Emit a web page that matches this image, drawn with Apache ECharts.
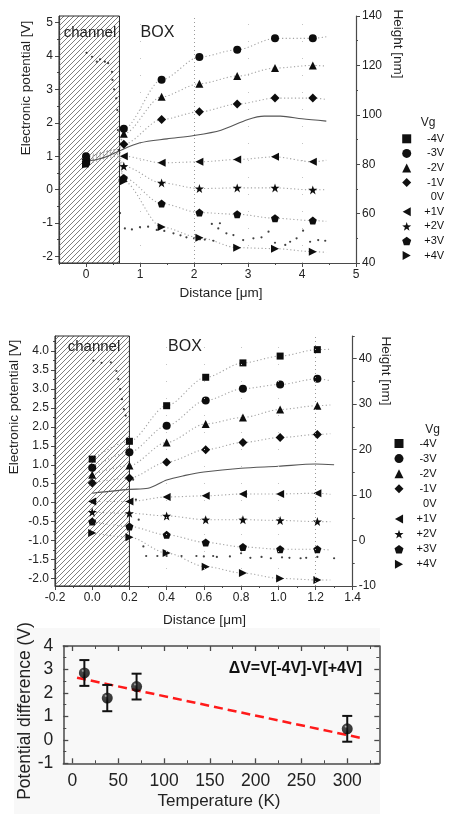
<!DOCTYPE html>
<html>
<head>
<meta charset="utf-8">
<script src="https://cdn.jsdelivr.net/npm/echarts@6/dist/echarts.min.js"></script>
<style>
  html, body { margin: 0; padding: 0; background: #fff; }
  #c { width: 454px; height: 814px; }
</style>
</head>
<body>
<div id="c"></div>
<script>
const FONT = "'Liberation Sans', Arial, Helvetica, sans-serif";

// ---------- (a) long device: potential vs distance ----------
const gateLabels = ['-4V', '-3V', '-2V', '-1V', '0V', '+1V', '+2V', '+3V', '+4V'];
const distA = [0, 0.6, 0.7, 1.4, 2.1, 2.8, 3.5, 4.2, 4.45];
const markA = [1, 0, 1, 1, 1, 1, 1, 1, 0];
const potA_m3 = [1.00, 1.20, 1.82, 3.29, 3.97, 4.19, 4.53, 4.53, 4.58];
const potA_m2 = [0.95, 1.20, 1.67, 2.78, 3.17, 3.40, 3.64, 3.72, 3.70];
const potA_m1 = [0.90, 1.20, 1.36, 2.10, 2.33, 2.56, 2.74, 2.74, 2.70];
const potA_p1 = [0.85, 1.15, 1.00, 0.80, 0.83, 0.90, 0.98, 0.83, 0.88];
const potA_p2 = [0.82, 1.10, 0.70, 0.20, 0.03, 0.05, 0.05, -0.01, 0.00];
const potA_p3 = [0.78, 1.05, 0.35, -0.42, -0.69, -0.74, -0.86, -0.93, -0.95];
const potA_p4 = [0.75, 1.00, 0.25, -1.12, -1.44, -1.74, -1.77, -1.86, -1.88];
const distA0 = [0, 0.2, 0.4, 0.6, 1.0, 1.5, 2.0, 2.5, 3.0, 3.3, 3.6, 4.0, 4.45];
const potA_0 = [0.85, 0.90, 1.00, 1.15, 1.40, 1.52, 1.62, 1.78, 2.10, 2.20, 2.20, 2.12, 2.05];
// topography (right axis, nm)
const hDistA = [0.01, 0.11, 0.20, 0.26, 0.35, 0.41, 0.48, 0.49, 0.52, 0.56, 0.58, 0.59, 0.61, 0.62, 0.63,
  0.72, 0.85, 1.00, 1.15, 1.31, 1.45, 1.62, 1.75, 1.86, 2.00, 2.11, 2.20, 2.33, 2.36, 2.45, 2.48, 2.60,
  2.73, 2.91, 3.10, 3.25, 3.38, 3.50, 3.69, 3.78, 3.90, 4.02, 4.15, 4.30, 4.43];
const heightA = [125.1, 123.5, 121.5, 122.5, 121.5, 120.9, 117.4, 114.1, 110.3, 106.7, 101.9, 93.8, 85.7, 73.6, 60.2,
  54.0, 53.6, 54.5, 54.7, 53.4, 53.0, 52.0, 51.2, 50.4, 50.0, 49.6, 49.5, 55.8, 49.0, 54.0, 56.1, 52.0,
  51.3, 49.3, 50.0, 50.4, 52.7, 48.2, 47.3, 48.6, 50.0, 53.1, 48.6, 49.3, 49.0];

// ---------- (b) short device ----------
const distB = [0, 0.2, 0.4, 0.61, 0.81, 1.01, 1.21, 1.28];
const markB = [1, 1, 1, 1, 1, 1, 1, 0];
const potB_m4 = [1.15, 1.62, 2.56, 3.31, 3.69, 3.87, 4.04, 4.05];
const potB_m3 = [0.92, 1.33, 2.03, 2.70, 3.01, 3.12, 3.27, 3.22];
const potB_m2 = [0.74, 0.98, 1.59, 2.08, 2.25, 2.46, 2.56, 2.58];
const potB_m1 = [0.52, 0.65, 1.07, 1.40, 1.59, 1.72, 1.80, 1.82];
const potB_p1 = [0.03, 0.03, 0.15, 0.18, 0.23, 0.23, 0.25, 0.22];
const potB_p2 = [-0.25, -0.28, -0.35, -0.45, -0.45, -0.47, -0.50, -0.50];
const potB_p3 = [-0.50, -0.63, -0.85, -1.05, -1.17, -1.23, -1.23, -1.25];
const potB_p4 = [-0.80, -0.91, -1.33, -1.69, -1.86, -2.00, -2.04, -2.04];
const distB0 = [0, 0.2, 0.3, 0.4, 0.5, 0.6, 0.8, 1.0, 1.2, 1.3];
const potB_0 = [0.25, 0.35, 0.38, 0.60, 0.72, 0.81, 0.91, 0.96, 1.02, 1.00];
const hDistB = [0.006, 0.05, 0.10, 0.13, 0.14, 0.15, 0.16, 0.17, 0.18, 0.22, 0.235, 0.25, 0.275, 0.29,
  0.35, 0.40, 0.48, 0.56, 0.60, 0.65, 0.67, 0.74, 0.80, 0.85, 0.91, 0.96, 1.02, 1.06, 1.12, 1.15, 1.21, 1.30];
const heightB = [39.6, 39.1, 39.2, 37.3, 35.5, 33.3, 31.1, 28.9, 27.5, 13.4, 9.0, 4.6, -1.3, -3.4,
  -3.4, -3.4, -3.4, -3.4, -3.5, -3.4, -3.6, -3.5, -2.8, -3.8, -3.6, -3.9, -3.7, -3.8, -3.9, -3.8, -3.6, -3.9];

// ---------- (c) potential difference vs temperature ----------
const temps = [13, 38, 70, 300];
const deltaV = [2.85, 1.78, 2.27, 0.47];
const deltaErr = [0.55, 0.56, 0.55, 0.55];
const fitT = [5, 315];
const fitV = [2.65, 0.08];

// tick positions
const ticksAx = [0, 1, 2, 3, 4, 5], minorAx = [-0.5, 0.5, 1.5, 2.5, 3.5, 4.5];
const ticksAy = [-2, -1, 0, 1, 2, 3, 4, 5], minorAy = [-1.5, -0.5, 0.5, 1.5, 2.5, 3.5, 4.5];
const ticksAh = [40, 60, 80, 100, 120, 140], minorAh = [50, 70, 90, 110, 130];
const ticksBx = [-0.2, 0, 0.2, 0.4, 0.6, 0.8, 1.0, 1.2, 1.4], minorBx = [-0.1, 0.1, 0.3, 0.5, 0.7, 0.9, 1.1, 1.3];
const ticksBy = [-2, -1.5, -1, -0.5, 0, 0.5, 1, 1.5, 2, 2.5, 3, 3.5, 4];
const minorBy = [-1.75, -1.25, -0.75, -0.25, 0.25, 0.75, 1.25, 1.75, 2.25, 2.75, 3.25, 3.75, 4.25];
const ticksBh = [-10, 0, 10, 20, 30, 40], minorBh = [-5, 5, 15, 25, 35, 45];
const ticksCx = [0, 50, 100, 150, 200, 250, 300], minorCx = [25, 75, 125, 175, 225, 275, 325];
const ticksCy = [-1, 0, 1, 2, 3, 4], minorCy = [-0.5, 0.5, 1.5, 2.5, 3.5];

const SYMBOL = {
  '-4V': 'rect', '-3V': 'circle', '-2V': 'triangle', '-1V': 'diamond', '0V': 'none',
  '+1V': 'path://M0,5L9,0L9,10Z',
  '+2V': 'path://M10,0L12.35,6.76L19.51,6.91L13.8,11.24L15.88,18.09L10,14L4.12,18.09L6.2,11.24L0.49,6.91L7.65,6.76Z',
  '+3V': 'path://M10,0L19.51,6.91L15.88,18.09L4.12,18.09L0.49,6.91Z',
  '+4V': 'path://M0,0L9,5L0,10Z'
};
const SIZE = { '-4V': 7, '-3V': 8, '-2V': 8, '-1V': 9, '+1V': 8, '+2V': 9, '+3V': 8, '+4V': 8 };

const AX = '#4a4a4a';

function hatchPattern() {
  const c = document.createElement('canvas');
  c.width = 5; c.height = 5;
  const g = c.getContext('2d');
  g.strokeStyle = '#6e6e6e';
  g.lineWidth = 0.9;
  g.beginPath();
  g.moveTo(0, 5); g.lineTo(5, 0);
  g.moveTo(-1, 1); g.lineTo(1, -1);
  g.moveTo(4, 6); g.lineTo(6, 4);
  g.stroke();
  return c;
}
const HATCH = hatchPattern();

function axis(o) {
  return {
    type: 'value', gridIndex: o.grid, position: o.pos, min: o.min, max: o.max,
    axisLine: { show: o.line !== false, onZero: false, lineStyle: { color: AX, width: o.lw || 1.2 } },
    axisTick: { show: true, inside: !!o.inside, length: o.len || 4, customValues: o.ticks,
      lineStyle: { color: AX, width: o.tw || 1 } },
    axisLabel: o.labels ? {
      show: true, customValues: o.ticks, margin: o.margin || 6, fontSize: o.fs || 12,
      color: '#222', fontFamily: FONT, formatter: o.fmt || (v => String(v))
    } : { show: false },
    splitLine: { show: false }, minorTick: { show: false }, silent: true
  };
}

function trace(name, xs, ys, marks, xi, yi) {
  return {
    type: 'line', name, xAxisIndex: xi, yAxisIndex: yi,
    smooth: 0.3, smoothMonotone: 'x', showAllSymbol: true,
    symbol: SYMBOL[name], symbolSize: SIZE[name],
    data: xs.map((x, i) => ({ value: [x, ys[i]], symbol: marks[i] ? SYMBOL[name] : 'none' })),
    itemStyle: { color: '#0d0d0d' },
    lineStyle: { color: '#a4a4a4', width: 1.1, type: [1.2, 2.4] },
    z: 3, silent: true
  };
}

function gridLines(xs, dense) {
  return {
    silent: true, symbol: ['none', 'none'], label: { show: false }, animation: false,
    data: xs.map(x => ({ xAxis: x, lineStyle: x === dense
      ? { color: '#9a9a9a', width: 1, type: [1, 3] }
      : { color: '#c4c4c4', width: 1, type: [1, 16] } }))
  };
}

function channelArea(x0, x1, y0, y1) {
  return {
    silent: true, animation: false,
    itemStyle: { color: { image: HATCH, repeat: 'repeat' }, borderColor: '#2a2a2a', borderWidth: 1 },
    data: [[{ xAxis: x0, yAxis: y0 }, { xAxis: x1, yAxis: y1 }]]
  };
}

const seriesA = [
  trace('-3V', distA, potA_m3, markA, 0, 0),
  trace('-2V', distA, potA_m2, markA, 0, 0),
  trace('-1V', distA, potA_m1, markA, 0, 0),
  trace('+1V', distA, potA_p1, markA, 0, 0),
  trace('+2V', distA, potA_p2, markA, 0, 0),
  trace('+3V', distA, potA_p3, markA, 0, 0),
  trace('+4V', distA, potA_p4, markA, 0, 0),
  {
    type: 'line', name: '0V', xAxisIndex: 0, yAxisIndex: 0, smooth: 0.3, symbol: 'none',
    data: distA0.map((x, i) => [x, potA_0[i]]),
    itemStyle: { color: '#444' }, lineStyle: { color: '#555', width: 1.1 }, z: 3, silent: true,
    markArea: channelArea(-0.5, 0.62, -2.2, 5.2),
    markLine: gridLines([1, 2, 3, 4], 2)
  },
  {
    type: 'scatter', name: 'heightA', xAxisIndex: 0, yAxisIndex: 2, symbolSize: 2.2,
    data: hDistA.map((x, i) => [x, heightA[i]]), itemStyle: { color: '#111' }, silent: true, z: 3
  }
];

const seriesB = [
  trace('-4V', distB, potB_m4, markB, 2, 3),
  trace('-3V', distB, potB_m3, markB, 2, 3),
  trace('-2V', distB, potB_m2, markB, 2, 3),
  trace('-1V', distB, potB_m1, markB, 2, 3),
  trace('+1V', distB, potB_p1, markB, 2, 3),
  trace('+2V', distB, potB_p2, markB, 2, 3),
  trace('+3V', distB, potB_p3, markB, 2, 3),
  trace('+4V', distB, potB_p4, markB, 2, 3),
  {
    type: 'line', name: '0V', xAxisIndex: 2, yAxisIndex: 3, smooth: 0.3, symbol: 'none',
    data: distB0.map((x, i) => [x, potB_0[i]]),
    itemStyle: { color: '#444' }, lineStyle: { color: '#555', width: 1.1 }, z: 3, silent: true,
    markArea: channelArea(-0.2, 0.2, -2.2, 4.4),
    markLine: gridLines([0.4, 0.6, 0.8, 1.0, 1.2], 1.2)
  },
  {
    type: 'scatter', name: 'heightB', xAxisIndex: 2, yAxisIndex: 5, symbolSize: 2.2,
    data: hDistB.map((x, i) => [x, heightB[i]]), itemStyle: { color: '#111' }, silent: true, z: 3
  }
];

const seriesC = [
  {
    type: 'line', name: 'fit', xAxisIndex: 4, yAxisIndex: 7, symbol: 'none',
    data: fitT.map((t, i) => [t, fitV[i]]),
    lineStyle: { color: '#ff1a1a', width: 2.5, type: [9, 5] }, z: 3, silent: true
  },
  {
    type: 'custom', name: 'err', xAxisIndex: 4, yAxisIndex: 7, silent: true, z: 4,
    data: temps.map((t, i) => [t, deltaV[i], deltaErr[i]]),
    encode: { x: 0, y: 1 },
    renderItem(params, api) {
      const x = api.value(0), y = api.value(1), e = api.value(2);
      const top = api.coord([x, y + e]);
      const bot = api.coord([x, y - e]);
      const hw = 5;
      const st = { stroke: '#111', lineWidth: 2 };
      return {
        type: 'group', children: [
          { type: 'line', shape: { x1: top[0], y1: top[1], x2: bot[0], y2: bot[1] }, style: st },
          { type: 'line', shape: { x1: top[0] - hw, y1: top[1], x2: top[0] + hw, y2: top[1] }, style: st },
          { type: 'line', shape: { x1: bot[0] - hw, y1: bot[1], x2: bot[0] + hw, y2: bot[1] }, style: st }
        ]
      };
    }
  },
  {
    type: 'scatter', name: 'dV', xAxisIndex: 4, yAxisIndex: 7, symbolSize: 11, z: 5, silent: true,
    data: temps.map((t, i) => [t, deltaV[i]]),
    itemStyle: {
      color: { type: 'radial', x: 0.36, y: 0.3, r: 0.7,
        colorStops: [{ offset: 0, color: '#b5b5b5' }, { offset: 0.2, color: '#1c1c1c' }, { offset: 1, color: '#000' }] }
    }
  }
];

function legendFor(top, left, gap) {
  return {
    orient: 'vertical', top, left, padding: 0, itemWidth: 9, itemHeight: 9, itemGap: gap, itemTextGap: 4,
    selectedMode: false,
    data: gateLabels.map(n => ({
      name: n, icon: n === '0V' ? 'rect' : SYMBOL[n],
      itemStyle: n === '0V' ? { opacity: 0 } : { color: '#111', opacity: 1 }
    })),
    formatter: n => '{t|' + n + '}',
    textStyle: { rich: { t: { width: 28, align: 'right', fontSize: 11, lineHeight: 12, color: '#111', fontFamily: FONT } } }
  };
}

function label(text, x, y, size, rot, extra) {
  return Object.assign({
    type: 'text', x, y, rotation: rot || 0, z: 100, silent: true,
    style: { text, fontSize: size, fontFamily: FONT, fill: '#222', align: 'center', verticalAlign: 'middle' }
  }, extra || {});
}

const chart = echarts.init(document.getElementById('c'), null, { renderer: 'canvas' });
chart.setOption({
  animation: false,
  backgroundColor: '#fff',
  textStyle: { fontFamily: FONT },
  grid: [
    { left: 59, top: 16, width: 297, height: 247, outerBoundsMode: 'none' },
    { left: 55, top: 336, width: 297.7, height: 250, outerBoundsMode: 'none' },
    { left: 63.3, top: 646, width: 316, height: 117.3, outerBoundsMode: 'none' }
  ],
  xAxis: [
    axis({ grid: 0, pos: 'bottom', min: -0.5, max: 5, ticks: ticksAx, labels: true }),
    axis({ grid: 0, pos: 'bottom', min: -0.5, max: 5, ticks: minorAx, len: 2, line: false }),
    axis({ grid: 1, pos: 'bottom', min: -0.2, max: 1.4, ticks: ticksBx, labels: true, fmt: v => v.toFixed(1) }),
    axis({ grid: 1, pos: 'bottom', min: -0.2, max: 1.4, ticks: minorBx, len: 2, line: false }),
    axis({ grid: 2, pos: 'bottom', min: -10, max: 335, ticks: ticksCx, labels: true, inside: true, len: 5,
      fs: 17.5, margin: 9, lw: 1.5, tw: 1.3 }),
    axis({ grid: 2, pos: 'bottom', min: -10, max: 335, ticks: minorCx, inside: true, len: 3, line: false }),
    axis({ grid: 2, pos: 'top', min: -10, max: 335, ticks: ticksCx, inside: true, len: 5, lw: 1.5, tw: 1.3 }),
    axis({ grid: 2, pos: 'top', min: -10, max: 335, ticks: minorCx, inside: true, len: 3, line: false })
  ],
  yAxis: [
    axis({ grid: 0, pos: 'left', min: -2.2, max: 5.2, ticks: ticksAy, labels: true }),
    axis({ grid: 0, pos: 'left', min: -2.2, max: 5.2, ticks: minorAy, len: 2, line: false }),
    axis({ grid: 0, pos: 'right', min: 40, max: 140, ticks: ticksAh, labels: true }),
    axis({ grid: 1, pos: 'left', min: -2.2, max: 4.4, ticks: ticksBy, labels: true, fmt: v => v.toFixed(1) }),
    axis({ grid: 1, pos: 'left', min: -2.2, max: 4.4, ticks: minorBy, len: 2, line: false }),
    axis({ grid: 1, pos: 'right', min: -10, max: 45, ticks: ticksBh, labels: true }),
    axis({ grid: 0, pos: 'right', min: 40, max: 140, ticks: minorAh, len: 2, line: false }),
    axis({ grid: 2, pos: 'left', min: -1, max: 4, ticks: ticksCy, labels: true, inside: true, len: 5,
      fs: 17.5, margin: 10, lw: 1.5, tw: 1.3 }),
    axis({ grid: 2, pos: 'left', min: -1, max: 4, ticks: minorCy, inside: true, len: 3, line: false }),
    axis({ grid: 2, pos: 'right', min: -1, max: 4, ticks: ticksCy, inside: true, len: 5, lw: 1.5, tw: 1.3 }),
    axis({ grid: 2, pos: 'right', min: -1, max: 4, ticks: minorCy, inside: true, len: 3, line: false }),
    axis({ grid: 1, pos: 'right', min: -10, max: 45, ticks: minorBh, len: 2, line: false })
  ],
  legend: [legendFor(133.3, 402.2, 3.6), legendFor(438, 394.5, 4.1)],
  graphic: [
    { type: 'rect', z: -10, silent: true, shape: { x: 14, y: 628, width: 366, height: 186 }, style: { fill: '#f8f8f8' } },
    label('Electronic potential [V]', 26, 88, 13.5, Math.PI / 2),
    label('Height [nm]', 397.5, 44, 13.5, -Math.PI / 2),
    label('Distance [\u03bcm]', 221, 293, 13.5),
    label('channel', 90, 32.5, 15),
    label('BOX', 157.5, 32.5, 16),
    label('Vg', 428, 123, 12),
    label('Electronic potential [V]', 14, 407, 13.5, Math.PI / 2),
    label('Height [nm]', 386, 371, 13.5, -Math.PI / 2),
    label('Distance [\u03bcm]', 204.5, 620, 13.5),
    label('channel', 94, 346.5, 15),
    label('BOX', 185, 346.5, 16),
    label('Vg', 432.7, 430, 12),
    label('Potential difference (V)', 25, 711, 17.5, Math.PI / 2),
    label('Temperature (K)', 219, 801.5, 17),
    {
      type: 'text', x: 362, y: 668.5, z: 100, silent: true,
      style: { text: '\u0394V=V[-4V]-V[+4V]', fontSize: 16, fontWeight: 'bold', fontFamily: FONT, fill: '#111',
        align: 'right', verticalAlign: 'middle' }
    }
  ],
  series: [...seriesA, ...seriesB, ...seriesC]
});
</script>
</body>
</html>
